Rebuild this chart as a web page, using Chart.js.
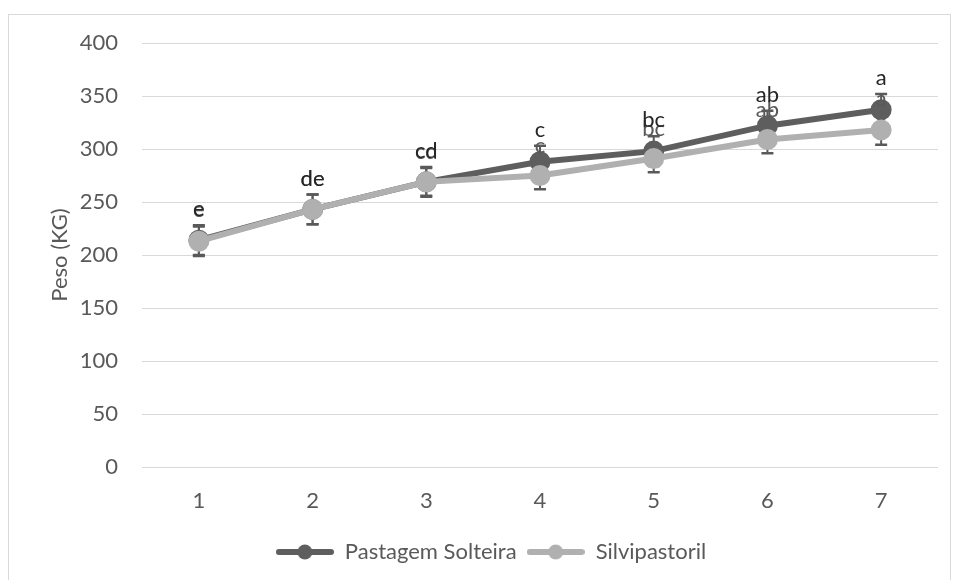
<!DOCTYPE html>
<html>
<head>
<meta charset="utf-8">
<script src="https://cdn.jsdelivr.net/npm/chart.js@4"></script>
<style>
  html, body { margin: 0; padding: 0; background: #ffffff; }
  #wrap { position: relative; width: 955px; height: 580px; overflow: hidden; }
  #frame { position: absolute; left: 8px; top: 14px; width: 941px; height: 580px; border: 1px solid #d9d9d9; pointer-events: none; }
</style>
</head>
<body>
<div id="wrap">
  <canvas id="c" width="955" height="580"></canvas>
  <div id="frame"></div>
</div>
<script>
const categories = ['1', '2', '3', '4', '5', '6', '7'];
const pastagemValues = [214, 243, 269, 288, 298, 322, 337];
const silviValues = [213, 243, 269, 275, 291, 309, 318];
const pastagemErrors = [14, 14, 14, 15, 14, 14, 15];
const silviErrors = [14, 14, 13, 13, 13, 13, 14];
const pastagemLetters = ['e', 'de', 'cd', 'c', 'bc', 'ab', 'a'];
const silviLetters = ['e', 'de', 'cd', 'c', 'bc', 'ab', 'a'];
const yTicks = [0, 50, 100, 150, 200, 250, 300, 350, 400];

const FONT = 'Lato, "Open Sans", sans-serif';
const DARK = '#5e5e5e';
const LIGHT = '#b0b0b0';

function legendIcon(color) {
  const cv = document.createElement('canvas');
  cv.width = 58; cv.height = 18;
  const g = cv.getContext('2d');
  g.strokeStyle = color; g.lineWidth = 6; g.lineCap = 'round';
  g.beginPath(); g.moveTo(3, 9); g.lineTo(55, 9); g.stroke();
  g.fillStyle = color;
  g.beginPath(); g.arc(29, 9, 7.5, 0, Math.PI * 2); g.fill();
  return cv;
}
const legendIcons = [legendIcon(DARK), legendIcon(LIGHT)];

const errorBars = {
  id: 'errorBars',
  beforeDatasetsDraw(chart) {
    const ctx = chart.ctx;
    const ys = chart.scales.y;
    const errs = [pastagemErrors, silviErrors];
    ctx.save();
    ctx.strokeStyle = '#595959';
    ctx.lineWidth = 2;
    chart.data.datasets.forEach((ds, di) => {
      const meta = chart.getDatasetMeta(di);
      meta.data.forEach((pt, i) => {
        const v = ds.data[i], e = errs[di][i];
        const x = pt.x;
        const yT = ys.getPixelForValue(v + e);
        const yB = ys.getPixelForValue(v - e);
        ctx.beginPath();
        ctx.moveTo(x, yT); ctx.lineTo(x, yB);
        ctx.stroke();
        ctx.lineWidth = 2.5;
        ctx.beginPath();
        ctx.moveTo(x - 6, yT); ctx.lineTo(x + 6, yT);
        ctx.moveTo(x - 6, yB); ctx.lineTo(x + 6, yB);
        ctx.stroke();
        ctx.lineWidth = 2;
      });
    });
    ctx.restore();
  }
};

const letterLabels = {
  id: 'letterLabels',
  afterDatasetsDraw(chart) {
    const ctx = chart.ctx;
    const ys = chart.scales.y;
    const errs = [pastagemErrors, silviErrors];
    const letters = [pastagemLetters, silviLetters];
    const colors = ['#262626', '#595959'];
    ctx.save();
    ctx.font = '22px ' + FONT;
    ctx.textAlign = 'center';
    ctx.textBaseline = 'middle';
    [1, 0].forEach(di => {
      const ds = chart.data.datasets[di];
      const meta = chart.getDatasetMeta(di);
      ctx.fillStyle = colors[di];
      meta.data.forEach((pt, i) => {
        const y = ys.getPixelForValue(ds.data[i] + errs[di][i]) - 16;
        ctx.fillText(letters[di][i], pt.x, y);
      });
    });
    ctx.restore();
  }
};

new Chart(document.getElementById('c'), {
  type: 'line',
  data: {
    labels: categories,
    datasets: [
      {
        label: 'Pastagem Solteira',
        data: pastagemValues,
        order: 2,
        borderColor: DARK, backgroundColor: DARK,
        pointBackgroundColor: DARK, pointBorderColor: DARK,
        borderWidth: 6, pointRadius: 7.5, pointHoverRadius: 7.5,
        pointStyle: 'circle', tension: 0
      },
      {
        label: 'Silvipastoril',
        data: silviValues,
        order: 1,
        borderColor: LIGHT, backgroundColor: LIGHT,
        pointBackgroundColor: LIGHT, pointBorderColor: LIGHT,
        borderWidth: 6, pointRadius: 7.5, pointHoverRadius: 7.5,
        pointStyle: 'circle', tension: 0
      }
    ]
  },
  options: {
    responsive: false,
    animation: false,
    events: [],
    layout: { padding: { left: 44, top: 43, right: 17, bottom: 7 } },
    scales: {
      x: {
        offset: true,
        grid: { display: false, drawTicks: false },
        border: { display: false },
        ticks: { color: '#595959', font: { family: FONT, size: 22 }, padding: 21 },
        afterFit(s) { s.height = 64; }
      },
      y: {
        min: 0, max: 400,
        afterBuildTicks(s) { s.ticks = yTicks.map(v => ({ value: v })); },
        grid: { color: '#d9d9d9', lineWidth: 1, drawTicks: false },
        border: { display: false },
        ticks: { color: '#595959', font: { family: FONT, size: 22 }, padding: 24 },
        title: { display: true, text: 'Peso (KG)', color: '#595959', font: { family: FONT, size: 22 }, padding: { top: 3, bottom: 0 } },
        afterFit(s) { s.width = 98; }
      }
    },
    plugins: {
      tooltip: { enabled: false },
      legend: {
        position: 'bottom',
        labels: {
          usePointStyle: true,
          pointStyleWidth: 58,
          color: '#595959',
          font: { family: FONT, size: 22 },
          padding: 10,
          generateLabels(chart) {
            return chart.data.datasets.map((ds, i) => ({
              text: ds.label,
              pointStyle: legendIcons[i],
              fillStyle: ds.borderColor,
              strokeStyle: ds.borderColor,
              lineWidth: 0,
              hidden: false,
              datasetIndex: i,
              fontColor: '#595959'
            }));
          }
        }
      }
    }
  },
  plugins: [errorBars, letterLabels]
});
</script>
</body>
</html>
